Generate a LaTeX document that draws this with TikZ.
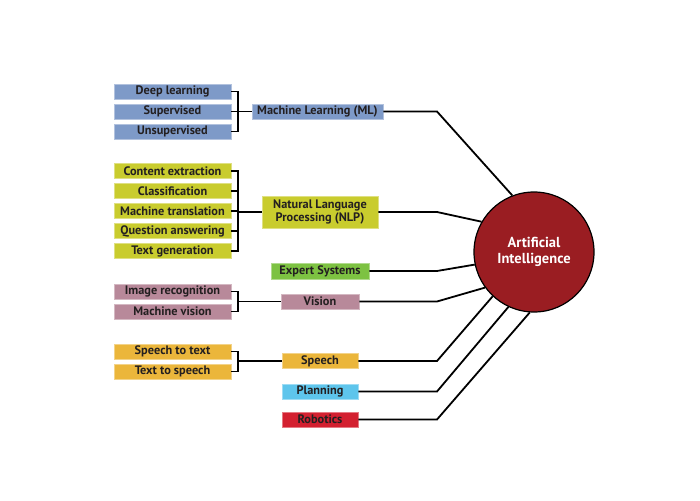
\documentclass[tikz,border=0pt]{standalone}
\usepackage{fontspec}
\setmainfont{PT Sans}
\definecolor{mlc}{HTML}{7E9AC8}
\definecolor{nlpc}{HTML}{C9CC2E}
\definecolor{expc}{HTML}{7DC242}
\definecolor{visc}{HTML}{B8899A}
\definecolor{spc}{HTML}{EBB63B}
\definecolor{plc}{HTML}{5EC5EC}
\definecolor{robc}{HTML}{D32030}
\definecolor{aic}{HTML}{9A1D22}
\definecolor{txt}{HTML}{231F20}
\begin{document}
\begin{tikzpicture}[x=1pt,y=-1pt,
  box/.style={rectangle, inner sep=0pt, minimum height=15pt, font=\fontsize{12.3}{12.5}\selectfont\bfseries, text=txt, align=center, draw=#1!60!white, line width=0.6pt, fill=#1},
  leaf/.style={box=#1, minimum width=117pt},
  conn/.style={draw=black, line width=1.8pt},
  br/.style={draw=black, line width=1.8pt}
]
\useasboundingbox (0,0) rectangle (700,500);

% central circle
\node[circle, fill=aic, draw=black, line width=1.2pt, minimum size=120pt, text=white, align=center,
  font=\fontsize{14.5}{16}\selectfont\bfseries] (ai) at (534,252) {Artificial\\Intelligence};

% Machine learning
\node[leaf=mlc] (dl) at (172.5,91.5) {Deep learning};
\node[leaf=mlc] (sup) at (172.5,111.5) {Supervised};
\node[leaf=mlc] (uns) at (172.5,131.5) {Unsupervised};
\node[box=mlc, minimum width=131pt] (ml) at (317.5,111.5) {Machine Learning (ML)};

% NLP
\node[leaf=nlpc, minimum height=15.5pt] (ce) at (172.5,171) {Content extraction};
\node[leaf=nlpc, minimum height=15.5pt] (cl) at (172.5,191) {Classification};
\node[leaf=nlpc, minimum height=15.5pt] (mt) at (172.5,211) {Machine translation};
\node[leaf=nlpc, minimum height=15.5pt] (qa) at (172.5,231) {Question answering};
\node[leaf=nlpc, minimum height=15.5pt] (tg) at (172.5,251) {Text generation};
\node[box=nlpc, minimum width=116pt, minimum height=32pt] (nlp) at (320,212) {Natural Language\\[0pt]Processing (NLP)};

% Expert systems
\node[box=expc, minimum width=98pt, minimum height=16pt] (exp) at (320,271) {Expert Systems};

% Vision
\node[leaf=visc] (ir) at (172.5,291.5) {Image recognition};
\node[leaf=visc] (mv) at (172.5,311.5) {Machine vision};
\node[box=visc, minimum width=78pt] (vis) at (320,301.5) {Vision};

% Speech
\node[leaf=spc] (stt) at (172.5,351.5) {Speech to text};
\node[leaf=spc] (tts) at (172.5,371.5) {Text to speech};
\node[box=spc, minimum width=76pt] (sp) at (320,361) {Speech};

% Planning, Robotics
\node[box=plc, minimum width=76pt] (pl) at (320,391.5) {Planning};
\node[box=robc, minimum width=76pt] (rob) at (320,419.5) {Robotics};

% brackets
\foreach \c/\p in {dl/ml, sup/ml, uns/ml, ce/nlp, cl/nlp, mt/nlp, qa/nlp, tg/nlp, ir/vis, mv/vis, stt/sp, tts/sp}
  \draw[br] (\c.east) -- ++(7,0) |- (\p.west);

% connectors to AI
\foreach \n/\a in {ml/111.4, nlp/150, exp/192.6, vis/216.9, sp/227.7, pl/245, rob/266}
  \draw[conn, line join=miter] (\n.east) -- (\n.east -| 437,0) -- (ai.\a);
\end{tikzpicture}
\end{document}
